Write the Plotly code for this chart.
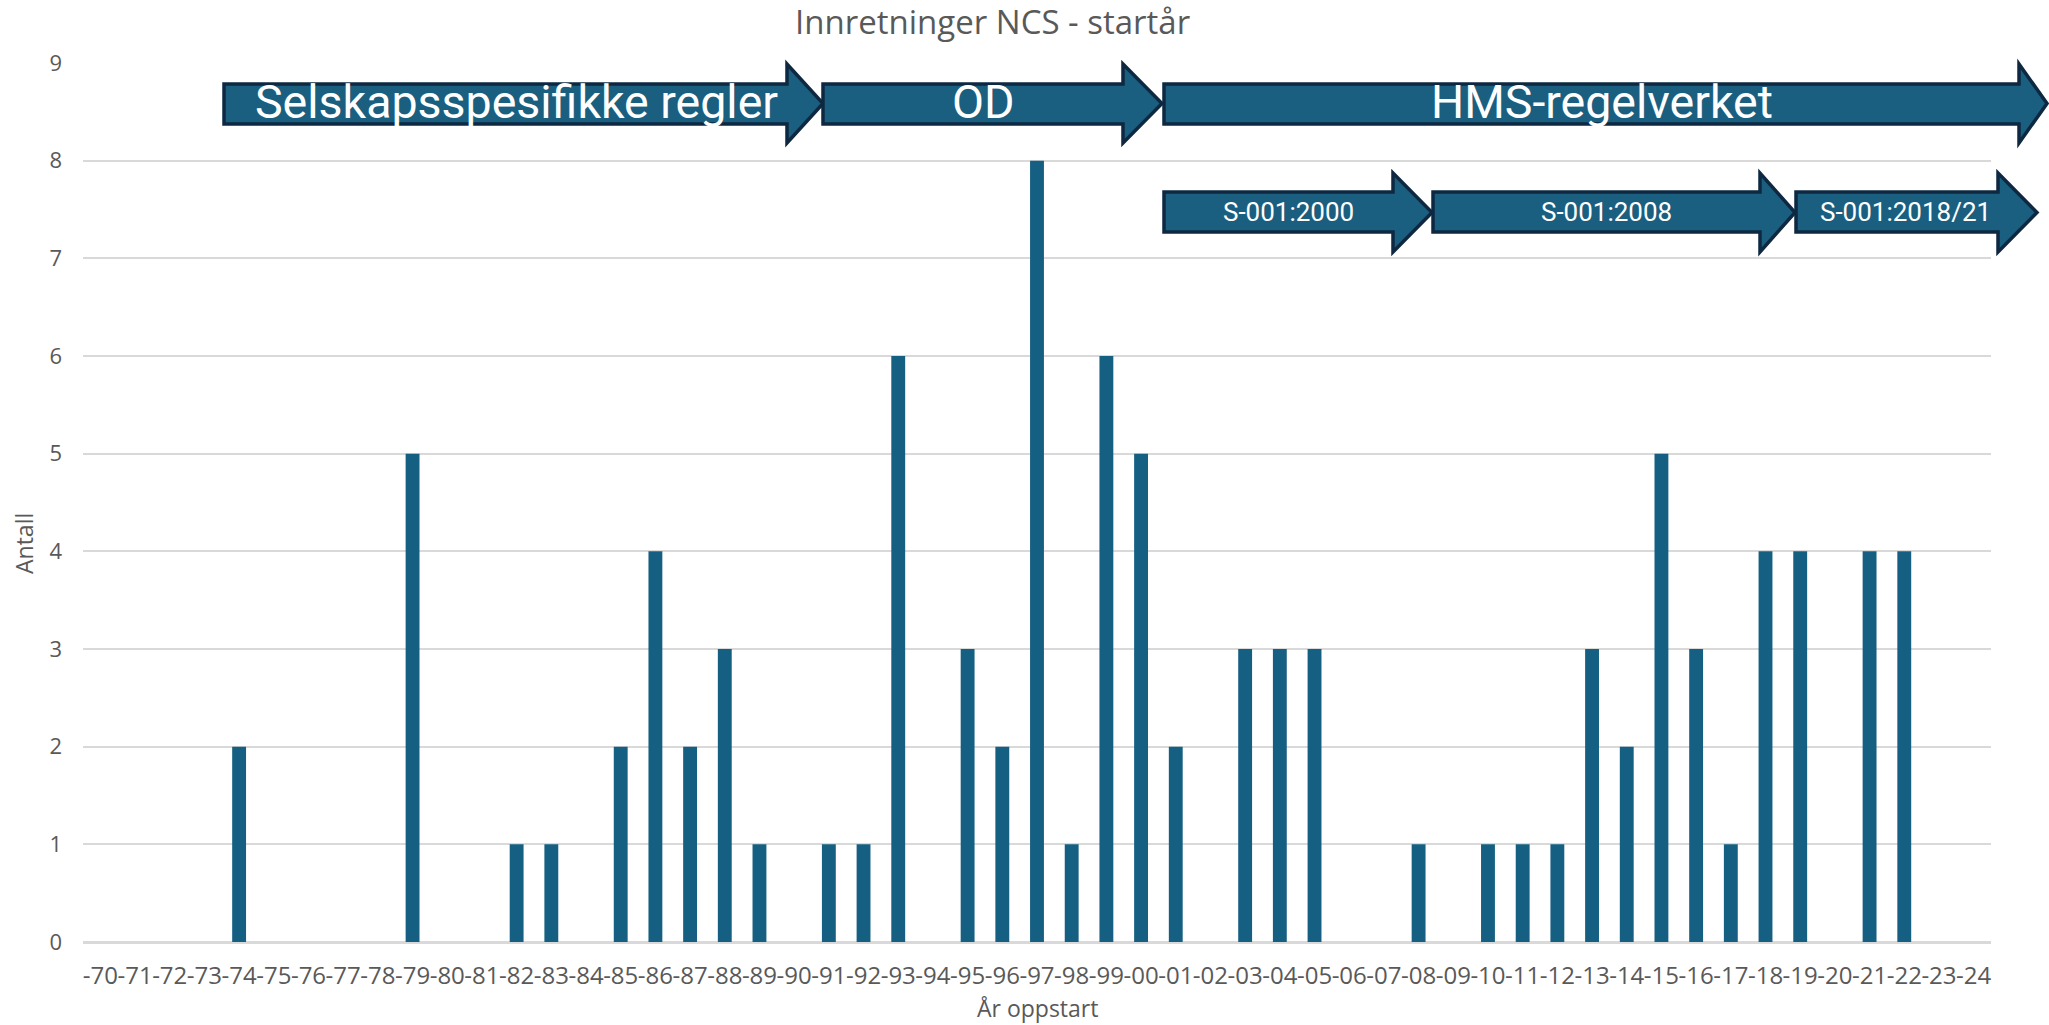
import plotly.graph_objects as go

# ---- data ----
years = ["-70", "-71", "-72", "-73", "-74", "-75", "-76", "-77", "-78", "-79",
         "-80", "-81", "-82", "-83", "-84", "-85", "-86", "-87", "-88", "-89",
         "-90", "-91", "-92", "-93", "-94", "-95", "-96", "-97", "-98", "-99",
         "-00", "-01", "-02", "-03", "-04", "-05", "-06", "-07", "-08", "-09",
         "-10", "-11", "-12", "-13", "-14", "-15", "-16", "-17", "-18", "-19",
         "-20", "-21", "-22", "-23", "-24"]
antall = [0, 0, 0, 0, 2, 0, 0, 0, 0, 5,
          0, 0, 1, 1, 0, 2, 4, 2, 3, 1,
          0, 1, 1, 6, 0, 3, 2, 8, 1, 6,
          5, 2, 0, 3, 3, 3, 0, 0, 1, 0,
          1, 1, 1, 3, 2, 5, 3, 1, 4, 4,
          0, 4, 4, 0, 0]

title_text = "Innretninger NCS - startår"
x_title = "År oppstart"
y_title = "Antall"

# regime arrows (label, start, head start, tip, text centre) in pixel space of the page
big_arrows = [("Selskapsspesifikke regler", 224, 787, 823, 516),
              ("OD", 823, 1123, 1162, 983),
              ("HMS-regelverket", 1164, 2019, 2047, 1602)]
small_arrows = [("S-001:2000", 1164, 1393, 1432, 1288),
                ("S-001:2008", 1433, 1760, 1795, 1606),
                ("S-001:2018/21", 1796, 1998, 2037, 1905)]

W, H = 2049, 1025
L, R, T, B = 83, 58, 63, 83
PW, PH = W - L - R, H - T - B


def px(xp):
    return (xp - L) / PW


def py(yp):
    return (H - B - yp) / PH


def arrow_path(x0, xh, xt, bt, bb, ht, hb):
    ym = (ht + hb) / 2
    pts = [(x0, bt), (xh, bt), (xh, ht), (xt, ym), (xh, hb), (xh, bb), (x0, bb)]
    s = "M " + " L ".join(f"{px(a):.5f},{py(b):.5f}" for a, b in pts) + " Z"
    return s


fig = go.Figure()
fig.add_trace(go.Bar(
    x=years, y=antall, width=0.4,
    marker=dict(color="#156082", line=dict(width=0)),
    hoverinfo="x+y",
))

shapes = []
annotations = []
ARROW_FILL = "#1a5f80"
ARROW_LINE = "#0e2841"
for label, x0, xh, xt, tx in big_arrows:
    shapes.append(dict(type="path", xref="paper", yref="paper",
                       path=arrow_path(x0, xh, xt, 84, 124, 64, 143),
                       fillcolor=ARROW_FILL, line=dict(color=ARROW_LINE, width=3.5),
                       layer="above"))
    annotations.append(dict(x=px(tx), y=py(102), xref="paper", yref="paper",
                            text=label, showarrow=False, xanchor="center", yanchor="middle",
                            font=dict(family="Roboto", size=46.5, color="white")))
for label, x0, xh, xt, tx in small_arrows:
    shapes.append(dict(type="path", xref="paper", yref="paper",
                       path=arrow_path(x0, xh, xt, 192, 232, 173, 252),
                       fillcolor=ARROW_FILL, line=dict(color=ARROW_LINE, width=3.5),
                       layer="above"))
    annotations.append(dict(x=px(tx), y=py(212), xref="paper", yref="paper",
                            text=label, showarrow=False, xanchor="center", yanchor="middle",
                            font=dict(family="Roboto", size=26, color="white")))

annotations.append(dict(x=px(992), y=py(22), xref="paper", yref="paper", text=title_text,
                        showarrow=False, xanchor="center", yanchor="middle",
                        font=dict(family="Open Sans", size=33, color="#595959")))
annotations.append(dict(x=px(1037), y=py(1008), xref="paper", yref="paper", text=x_title,
                        showarrow=False, xanchor="center", yanchor="middle",
                        font=dict(family="Open Sans", size=23, color="#595959")))
annotations.append(dict(x=px(24), y=py(544), xref="paper", yref="paper", text=y_title,
                        showarrow=False, xanchor="center", yanchor="middle", textangle=-90,
                        font=dict(family="Open Sans", size=23, color="#595959")))

fig.update_layout(
    template="none",
    width=W, height=H, autosize=False,
    margin=dict(l=L, r=R, t=T, b=B, pad=0),
    paper_bgcolor="white", plot_bgcolor="white",
    showlegend=False,
    bargap=0.6,
    shapes=shapes,
    annotations=annotations,
    xaxis=dict(type="category", categoryorder="array", categoryarray=years,
               range=[-0.5, len(years) - 0.5], automargin=False,
               showgrid=False, showline=True, linecolor="#d9d9d9", linewidth=1.5,
               ticks="", tickangle=0, ticklabelstandoff=11,
               tickfont=dict(family="Open Sans", size=24, color="#595959")),
    yaxis=dict(range=[0, 9], dtick=1, tick0=0, automargin=False,
               showgrid=True, gridcolor="#d9d9d9", gridwidth=1.5,
               zeroline=True, zerolinecolor="#d9d9d9", zerolinewidth=1.5,
               showline=False, ticks="", ticklabelstandoff=20,
               tickfont=dict(family="Open Sans", size=22, color="#595959")),
)

fig.write_html(
    "out.html",
    config={"displayModeBar": False},
    post_script="document.body.style.margin='0';document.body.style.overflow='hidden';",
)
